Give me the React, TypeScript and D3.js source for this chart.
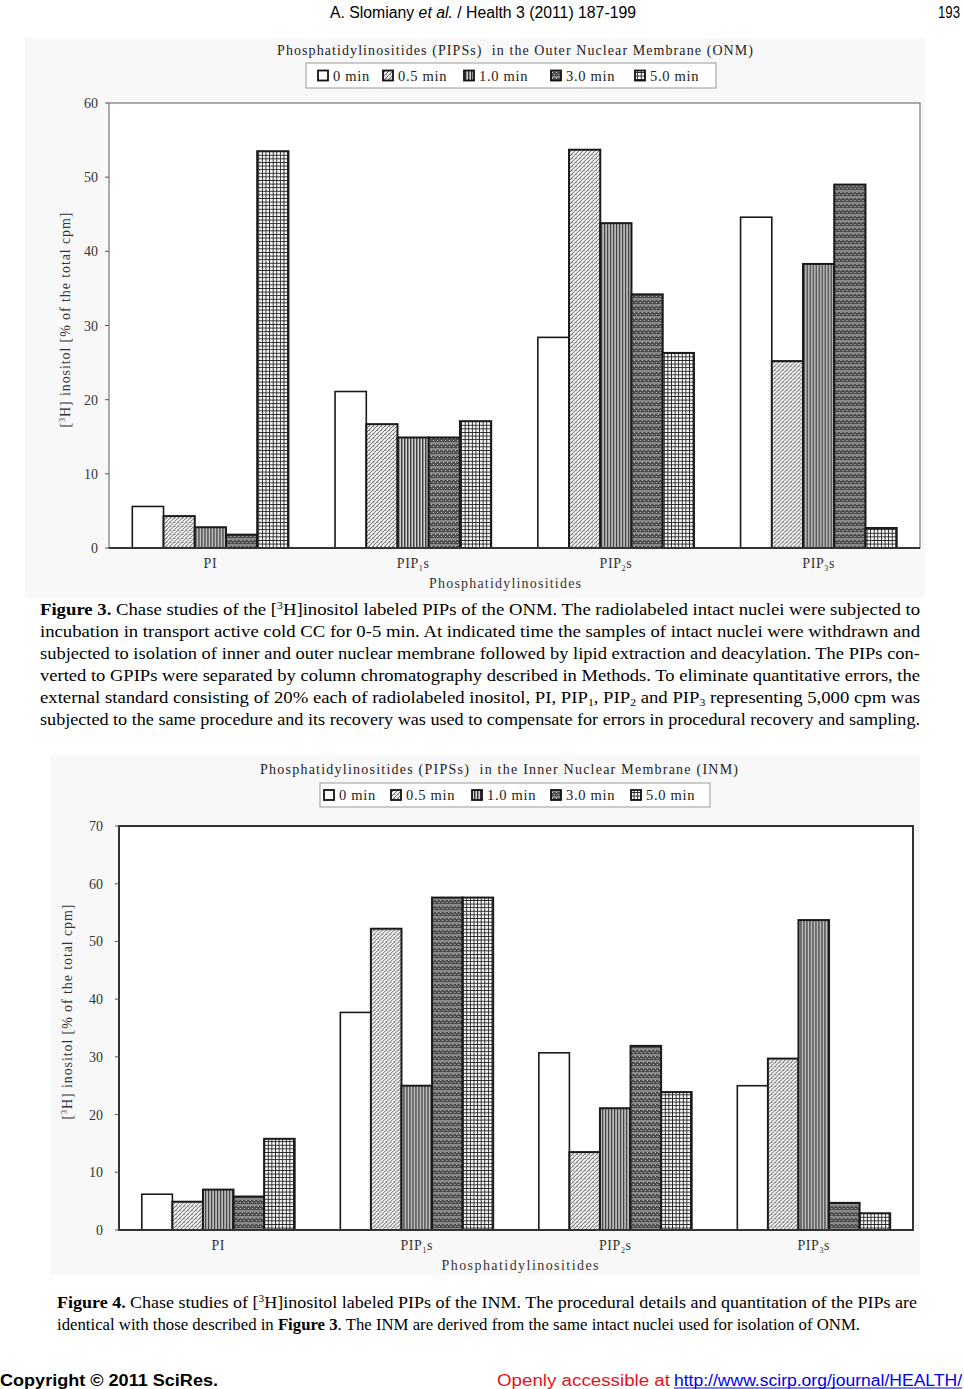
import React from "react";
import * as d3 from "d3";

// ---------------- DATA ----------------
const categories = ["PI", "PIP1s", "PIP2s", "PIP3s"];
const seriesNames = ["0 min", "0.5 min", "1.0 min", "3.0 min", "5.0 min"];

// Outer nuclear membrane (Figure 3)
const onm0 = [5.6, 21.1, 28.4, 44.6];
const onm05 = [4.3, 16.7, 53.7, 25.2];
const onm10 = [2.8, 14.9, 43.8, 38.3];
const onm30 = [1.8, 14.9, 34.2, 49.0];
const onm50 = [53.5, 17.1, 26.3, 2.7];
const onmTicks = [0, 10, 20, 30, 40, 50, 60];

// Inner nuclear membrane (Figure 4)
const inm0 = [6.2, 37.7, 30.7, 25.0];
const inm05 = [4.9, 52.2, 13.5, 29.7];
const inm10 = [7.0, 25.0, 21.1, 53.7];
const inm30 = [5.8, 57.6, 31.9, 4.7];
const inm50 = [15.8, 57.6, 23.9, 2.9];
const inmTicks = [0, 10, 20, 30, 40, 50, 60, 70];

const onmTitle = "Phosphatidylinositides (PIPSs)  in the Outer Nuclear Membrane (ONM)";
const inmTitle = "Phosphatidylinositides (PIPSs)  in the Inner Nuclear Membrane (INM)";
const xTitle = "Phosphatidylinositides";

// ---------------- STYLE ----------------
const SERIF = "'Liberation Serif', 'Times New Roman', serif";
const SANS = "'Liberation Sans', Arial, sans-serif";
const patternIds = ["none", "p05", "p10", "p30", "p50"];

function Patterns() {
  return (
    <defs>
      <pattern id="p05" width="4" height="4" patternUnits="userSpaceOnUse">
        <rect width="4" height="4" fill="#eeeeee" />
        <path d="M0,4 L4,0 M-1,1 L1,-1 M3,5 L5,3" stroke="#5a5a5a" strokeWidth="0.9" />
        <rect x="2" y="2" width="1" height="1" fill="#999" />
      </pattern>
      <pattern id="p10" width="3" height="4" patternUnits="userSpaceOnUse">
        <rect width="3" height="4" fill="#d4d4d4" />
        <rect x="0" y="0" width="1.4" height="4" fill="#333" />
      </pattern>
      <pattern id="p30" width="4" height="6" patternUnits="userSpaceOnUse">
        <rect width="4" height="6" fill="#4d4d4d" />
        <rect x="0" y="0" width="1" height="1" fill="#cfcfcf" />
        <rect x="2" y="2" width="1" height="1" fill="#cfcfcf" />
        <rect x="0" y="4.6" width="4" height="0.8" fill="#e0e0e0" />
      </pattern>
      <pattern id="p50" width="3.6" height="3.6" patternUnits="userSpaceOnUse">
        <rect width="3.6" height="3.6" fill="#fafafa" />
        <rect x="0" y="0" width="3.6" height="0.9" fill="#222" />
        <rect x="0" y="0" width="0.9" height="3.6" fill="#222" />
      </pattern>
    </defs>
  );
}

function CatLabel({ name }: { name: string }) {
  const m = name.match(/^PIP(\d)s$/);
  if (!m) return <>{name}</>;
  return (
    <>
      <tspan>PIP</tspan>
      <tspan fontSize="8" dy="3">{m[1]}</tspan>
      <tspan dy="-3">s</tspan>
    </>
  );
}

type Layout = {
  left: number; right: number; top: number; bottom: number;
  yMax: number; ticks: number[];
  bg: { x: number; y: number; w: number; h: number };
  title: string; titleX: number; titleY: number; titleLen: number;
  legend: { x: number; y: number; w: number; h: number; textX: number[] };
  yLabelX: number; yLabelY: number; yLabelLen: number;
  tickOffset: number;
  catY: number; xTitleX: number; xTitleY: number; xTitleLen: number;
  thickFrame: boolean;
};

function BarChart({ layout, series }: { layout: Layout; series: number[][] }) {
  const L = layout;
  const y = d3.scaleLinear().domain([0, L.yMax]).range([L.bottom, L.top]);
  const x0 = d3
    .scaleBand<string>()
    .domain(categories)
    .range([L.left, L.right])
    .paddingInner(0.23)
    .paddingOuter(0.115);
  const x1 = d3.scaleBand<string>().domain(seriesNames).range([0, x0.bandwidth()]);

  return (
    <g>
      <rect x={L.bg.x} y={L.bg.y} width={L.bg.w} height={L.bg.h} fill="#f8f8f8" />
      {/* title */}
      <text
        x={L.titleX}
        y={L.titleY}
        textAnchor="middle"
        fontFamily={SERIF}
        fontSize="14"
        fill="#222"
        textLength={L.titleLen}
        lengthAdjust="spacing"
        style={{ whiteSpace: "pre" }}
      >
        {L.title}
      </text>
      {/* legend */}
      <rect x={L.legend.x} y={L.legend.y} width={L.legend.w} height={L.legend.h} fill="#fff" stroke="#999" strokeWidth="1" />
      {seriesNames.map((s, i) => (
        <g key={s}>
          <rect
            x={L.legend.textX[i] - 15}
            y={L.legend.y + L.legend.h / 2 - 5}
            width="10"
            height="10"
            fill={i === 0 ? "#fff" : `url(#${patternIds[i]})`}
            stroke="#111"
            strokeWidth="1.8"
          />
          <text
            x={L.legend.textX[i]}
            y={L.legend.y + L.legend.h / 2 + 5}
            fontFamily={SERIF}
            fontSize="14.5"
            fill="#222"
            letterSpacing="0.7"
          >
            {s}
          </text>
        </g>
      ))}
      {/* plot background */}
      <rect x={L.left} y={L.top} width={L.right - L.left} height={L.bottom - L.top} fill="#fff" />
      {/* bars */}
      {categories.map((c, ci) => (
        <g key={c} transform={`translate(${x0(c)},0)`}>
          {seriesNames.map((s, si) => {
            const v = series[si][ci];
            return (
              <rect
                key={s}
                x={x1(s)}
                y={y(v)}
                width={x1.bandwidth()}
                height={L.bottom - y(v)}
                fill={si === 0 ? "#fff" : `url(#${patternIds[si]})`}
                stroke="#1a1a1a"
                strokeWidth={si === 0 ? 1.6 : 2}
              />
            );
          })}
        </g>
      ))}
      {/* frame */}
      <rect
        x={L.left}
        y={L.top}
        width={L.right - L.left}
        height={L.bottom - L.top}
        fill="none"
        stroke={L.thickFrame ? "#333" : "#777"}
        strokeWidth={L.thickFrame ? 2 : 1.2}
      />
      <line x1={L.left} x2={L.right} y1={L.bottom} y2={L.bottom} stroke="#333" strokeWidth="2" />
      {/* y ticks */}
      {L.ticks.map((t) => (
        <g key={t}>
          <line x1={L.left - 4} x2={L.left} y1={y(t)} y2={y(t)} stroke="#555" />
          <text
            x={L.left - L.tickOffset}
            y={y(t) + 5}
            textAnchor="end"
            fontFamily={SERIF}
            fontSize="14"
            fill="#333"
          >
            {t}
          </text>
        </g>
      ))}
      {/* y label */}
      <text
        transform={`translate(${L.yLabelX},${L.yLabelY}) rotate(-90)`}
        textAnchor="middle"
        fontFamily={SERIF}
        fontSize="14"
        fill="#333"
        textLength={L.yLabelLen}
        lengthAdjust="spacing"
      >
        <tspan>[</tspan>
        <tspan fontSize="8" dy="-5">3</tspan>
        <tspan dy="5">H] inositol [% of the total cpm]</tspan>
      </text>
      {/* category labels */}
      {categories.map((c) => (
        <text
          key={c}
          x={(x0(c) as number) + x0.bandwidth() / 2}
          y={L.catY}
          textAnchor="middle"
          fontFamily={SERIF}
          fontSize="14"
          fill="#333"
          letterSpacing="0.6"
        >
          <CatLabel name={c} />
        </text>
      ))}
      <text
        x={L.xTitleX}
        y={L.xTitleY}
        textAnchor="middle"
        fontFamily={SERIF}
        fontSize="14"
        fill="#333"
        textLength={L.xTitleLen}
        lengthAdjust="spacing"
      >
        {xTitle}
      </text>
    </g>
  );
}

const onmLayout: Layout = {
  left: 109, right: 920, top: 103, bottom: 548,
  yMax: 60, ticks: onmTicks,
  bg: { x: 25, y: 38, w: 900, h: 560 },
  title: onmTitle, titleX: 515, titleY: 55, titleLen: 476,
  legend: { x: 306, y: 63, w: 410, h: 25, textX: [333, 398, 479, 566, 650] },
  yLabelX: 70, yLabelY: 320, yLabelLen: 215,
  tickOffset: 11,
  catY: 568, xTitleX: 505, xTitleY: 588, xTitleLen: 152,
  thickFrame: false,
};

const inmLayout: Layout = {
  left: 119, right: 913, top: 826, bottom: 1230,
  yMax: 70, ticks: inmTicks,
  bg: { x: 50, y: 755, w: 870, h: 520 },
  title: inmTitle, titleX: 499, titleY: 774, titleLen: 478,
  legend: { x: 320, y: 783, w: 390, h: 24, textX: [339, 406, 487, 566, 646] },
  yLabelX: 72, yLabelY: 1012, yLabelLen: 215,
  tickOffset: 16,
  catY: 1250, xTitleX: 520, xTitleY: 1270, xTitleLen: 157,
  thickFrame: true,
};

// ---------------- CAPTIONS ----------------
function CapLine({ x, y, len, children }: { x: number; y: number; len: number; children: React.ReactNode }) {
  return (
    <text
      x={x}
      y={y}
      fontFamily={SERIF}
      fontSize="16"
      fill="#000"
      textLength={len}
      lengthAdjust="spacingAndGlyphs"
    >
      {children}
    </text>
  );
}

export default function App() {
  const W = 964;
  const H = 1389;
  return (
    <svg
      width={W}
      height={H}
      viewBox={`0 0 ${W} ${H}`}
      style={{ position: "absolute", left: 0, top: 0, display: "block", background: "#fff" }}
    >
      <Patterns />
      <rect width={W} height={H} fill="#fff" />
      {/* header */}
      <text x={330} y={18} fontFamily={SANS} fontSize="16" fill="#000" textLength={306} lengthAdjust="spacingAndGlyphs">
        <tspan>A. Slomiany </tspan>
        <tspan fontStyle="italic">et al.</tspan>
        <tspan> / Health 3 (2011) 187-199</tspan>
      </text>
      <text x={938} y={18} fontFamily={SANS} fontSize="16" fill="#000" textLength={22} lengthAdjust="spacingAndGlyphs">
        193
      </text>

      <BarChart layout={onmLayout} series={[onm0, onm05, onm10, onm30, onm50]} />

      {/* Figure 3 caption */}
      <CapLine x={40} y={615} len={880}>
        <tspan fontWeight="bold">Figure 3.</tspan>
        <tspan> Chase studies of the [</tspan>
        <tspan fontSize="10" dy="-6">3</tspan>
        <tspan dy="6">H]inositol labeled PIPs of the ONM. The radiolabeled intact nuclei were subjected to</tspan>
      </CapLine>
      <CapLine x={40} y={637} len={880}>
        incubation in transport active cold CC for 0-5 min. At indicated time the samples of intact nuclei were withdrawn and
      </CapLine>
      <CapLine x={40} y={659} len={880}>
        subjected to isolation of inner and outer nuclear membrane followed by lipid extraction and deacylation. The PIPs con-
      </CapLine>
      <CapLine x={40} y={681} len={880}>
        verted to GPIPs were separated by column chromatography described in Methods. To eliminate quantitative errors, the
      </CapLine>
      <CapLine x={40} y={703} len={880}>
        <tspan>external standard consisting of 20% each of radiolabeled inositol, PI, PIP</tspan>
        <tspan fontSize="10" dy="3">1</tspan>
        <tspan dy="-3">, PIP</tspan>
        <tspan fontSize="10" dy="3">2</tspan>
        <tspan dy="-3"> and PIP</tspan>
        <tspan fontSize="10" dy="3">3</tspan>
        <tspan dy="-3"> representing 5,000 cpm was</tspan>
      </CapLine>
      <CapLine x={40} y={725} len={880}>
        subjected to the same procedure and its recovery was used to compensate for errors in procedural recovery and sampling.
      </CapLine>

      <BarChart layout={inmLayout} series={[inm0, inm05, inm10, inm30, inm50]} />

      {/* Figure 4 caption */}
      <CapLine x={57} y={1308} len={860}>
        <tspan fontWeight="bold">Figure 4.</tspan>
        <tspan> Chase studies of [</tspan>
        <tspan fontSize="10" dy="-6">3</tspan>
        <tspan dy="6">H]inositol labeled PIPs of the INM. The procedural details and quantitation of the PIPs are</tspan>
      </CapLine>
      <CapLine x={57} y={1330} len={803}>
        <tspan>identical with those described in </tspan>
        <tspan fontWeight="bold">Figure 3</tspan>
        <tspan>. The INM are derived from the same intact nuclei used for isolation of ONM.</tspan>
      </CapLine>

      {/* footer */}
      <text x={0} y={1386} fontFamily={SANS} fontWeight="bold" fontSize="16" fill="#000" textLength={218} lengthAdjust="spacingAndGlyphs">
        Copyright © 2011 SciRes.
      </text>
      <text x={497} y={1386} fontFamily={SANS} fontSize="16" fill="#e3141b" textLength={173} lengthAdjust="spacingAndGlyphs">
        Openly accessible at
      </text>
      <text x={674} y={1386} fontFamily={SANS} fontSize="16" fill="#0000ee" textLength={288} lengthAdjust="spacingAndGlyphs">
        http://www.scirp.org/journal/HEALTH/
      </text>
      <line x1={674} x2={962} y1={1388} y2={1388} stroke="#0000ee" strokeWidth="1" />
    </svg>
  );
}
